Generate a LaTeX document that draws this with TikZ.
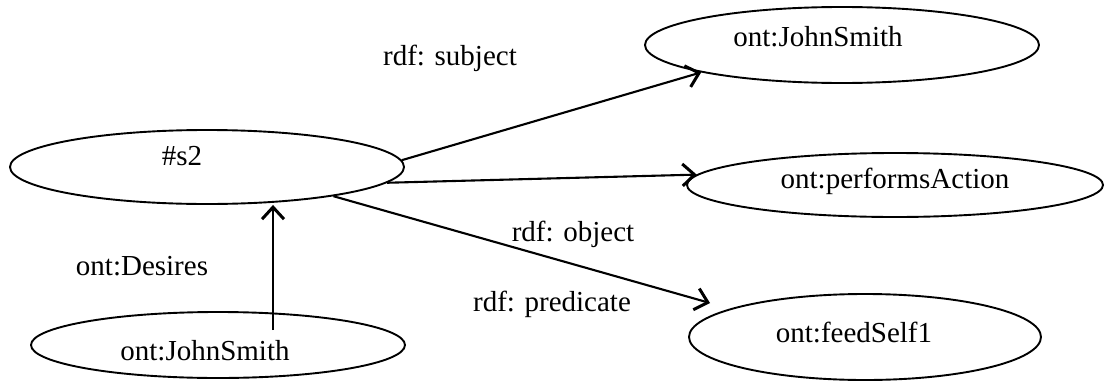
\documentclass[tikz,border=0pt]{standalone}
\usepackage{fontspec}
\setmainfont{Liberation Serif}
\usetikzlibrary{shapes.geometric,arrows.meta}
\tikzset{
  ell/.style={draw=black, ellipse, line width=1.9pt, inner sep=0pt},
  lbl/.style={inner sep=0pt, font=\fontsize{29}{34}\selectfont},
  conn/.style={line width=2.1pt, -{Straight Barb[length=12pt,width=22pt,line width=3pt]}}
}
\begin{document}
\begin{tikzpicture}[x=1pt,y=-1pt]
\useasboundingbox (0,0) rectangle (1111,383);
% ellipses
\node[ell, minimum width=394pt, minimum height=74pt] (s2) at (207,167) {};
\node[ell, minimum width=394pt, minimum height=76pt] (jst) at (842,45) {};
\node[ell, minimum width=416pt, minimum height=64pt] (pa) at (895,185) {};
\node[ell, minimum width=352pt, minimum height=86pt] (fs) at (865,337) {};
\node[ell, minimum width=374pt, minimum height=66pt] (jsb) at (218,345) {};
% texts inside ellipses
\node[lbl] (s2t) at (182,156) {\#s2};
\node[lbl] (jstt) at (818,37) {ont:JohnSmith};
\node[lbl] (pat) at (895,181) {ont:performsAction};
\node[lbl] (fst) at (854,332) {ont:feedSelf1};
\node[lbl] (jsbt) at (205,351) {ont:JohnSmith};
% edge labels
\node[lbl] (l1) at (450,58) {rdf: subject};
\node[lbl] (l2) at (573,234) {rdf: object};
\node[lbl] (l3) at (552,304) {rdf: predicate};
\node[lbl] (l4) at (142,266) {ont:Desires};
% connectors
\coordinate (oe) at (710,303);
\coordinate (d0) at (273,330);
\draw[conn] (s2.2) -- (jst.191);
\draw[conn] (s2.-5) -- (pa.177);
\draw[conn] (s2.-13) -- (oe);
\draw[conn] (d0) -- (d0 |- s2.south);
\end{tikzpicture}
\end{document}
